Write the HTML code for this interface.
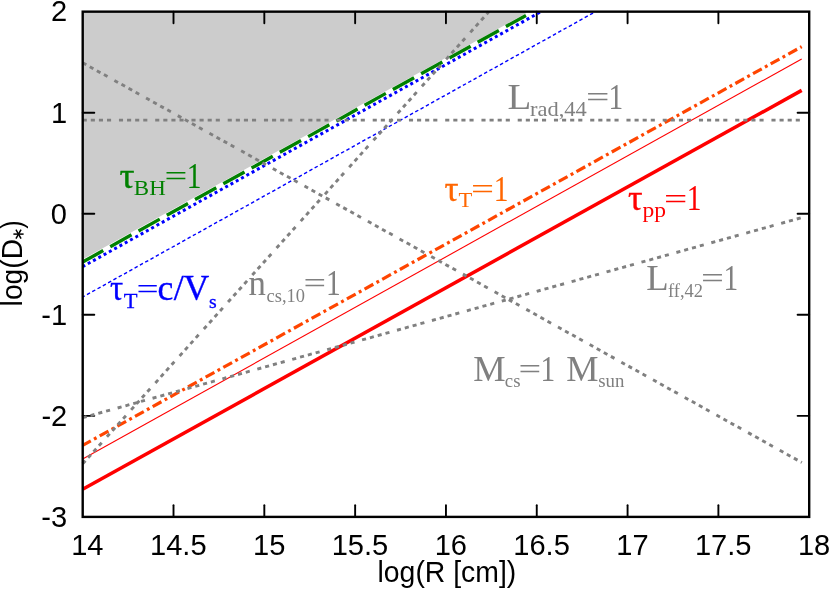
<!DOCTYPE html>
<html><head><meta charset="utf-8"><title>plot</title>
<style>html,body{margin:0;padding:0;background:#fff;}svg{display:block;will-change:transform;}</style>
</head><body>
<svg width="830" height="593" viewBox="0 0 830 593">
<rect width="830" height="593" fill="#ffffff"/>
<polygon points="82.7,11.65 82.7,259.3 526.0,13.3 526.0,11.65" fill="#cccccc"/>
<line x1="173.51" y1="516.90" x2="173.51" y2="505.30" stroke="#000" stroke-width="1.9" stroke-linecap="round"/>
<line x1="173.51" y1="11.65" x2="173.51" y2="23.25" stroke="#000" stroke-width="1.9" stroke-linecap="round"/>
<line x1="264.32" y1="516.90" x2="264.32" y2="505.30" stroke="#000" stroke-width="1.9" stroke-linecap="round"/>
<line x1="264.32" y1="11.65" x2="264.32" y2="23.25" stroke="#000" stroke-width="1.9" stroke-linecap="round"/>
<line x1="355.14" y1="516.90" x2="355.14" y2="505.30" stroke="#000" stroke-width="1.9" stroke-linecap="round"/>
<line x1="355.14" y1="11.65" x2="355.14" y2="23.25" stroke="#000" stroke-width="1.9" stroke-linecap="round"/>
<line x1="445.95" y1="516.90" x2="445.95" y2="505.30" stroke="#000" stroke-width="1.9" stroke-linecap="round"/>
<line x1="445.95" y1="11.65" x2="445.95" y2="23.25" stroke="#000" stroke-width="1.9" stroke-linecap="round"/>
<line x1="536.76" y1="516.90" x2="536.76" y2="505.30" stroke="#000" stroke-width="1.9" stroke-linecap="round"/>
<line x1="536.76" y1="11.65" x2="536.76" y2="23.25" stroke="#000" stroke-width="1.9" stroke-linecap="round"/>
<line x1="627.58" y1="516.90" x2="627.58" y2="505.30" stroke="#000" stroke-width="1.9" stroke-linecap="round"/>
<line x1="627.58" y1="11.65" x2="627.58" y2="23.25" stroke="#000" stroke-width="1.9" stroke-linecap="round"/>
<line x1="718.39" y1="516.90" x2="718.39" y2="505.30" stroke="#000" stroke-width="1.9" stroke-linecap="round"/>
<line x1="718.39" y1="11.65" x2="718.39" y2="23.25" stroke="#000" stroke-width="1.9" stroke-linecap="round"/>
<line x1="82.70" y1="415.85" x2="94.30" y2="415.85" stroke="#000" stroke-width="1.9" stroke-linecap="round"/>
<line x1="809.20" y1="415.85" x2="797.60" y2="415.85" stroke="#000" stroke-width="1.9" stroke-linecap="round"/>
<line x1="82.70" y1="314.80" x2="94.30" y2="314.80" stroke="#000" stroke-width="1.9" stroke-linecap="round"/>
<line x1="809.20" y1="314.80" x2="797.60" y2="314.80" stroke="#000" stroke-width="1.9" stroke-linecap="round"/>
<line x1="82.70" y1="213.75" x2="94.30" y2="213.75" stroke="#000" stroke-width="1.9" stroke-linecap="round"/>
<line x1="809.20" y1="213.75" x2="797.60" y2="213.75" stroke="#000" stroke-width="1.9" stroke-linecap="round"/>
<line x1="82.70" y1="112.70" x2="94.30" y2="112.70" stroke="#000" stroke-width="1.9" stroke-linecap="round"/>
<line x1="809.20" y1="112.70" x2="797.60" y2="112.70" stroke="#000" stroke-width="1.9" stroke-linecap="round"/>
<line x1="82.70" y1="262.00" x2="526.00" y2="15.40" stroke="#008000" stroke-width="3.4" stroke-linecap="butt" stroke-dasharray="24.3 8.04" stroke-dashoffset="0.8"/>
<line x1="82.70" y1="266.60" x2="541.00" y2="11.65" stroke="#0000ff" stroke-width="3.0" stroke-linecap="butt" stroke-dasharray="3 3.05" stroke-dashoffset="0.2"/>
<line x1="82.70" y1="297.00" x2="593.30" y2="12.90" stroke="#0000ff" stroke-width="1.4" stroke-linecap="butt" stroke-dasharray="3.5 2.56" stroke-dashoffset="1.21"/>
<line x1="82.70" y1="489.30" x2="801.70" y2="90.40" stroke="#ff0000" stroke-width="3.5" stroke-linecap="butt"/>
<line x1="82.70" y1="458.90" x2="801.70" y2="59.00" stroke="#ff0000" stroke-width="1.1" stroke-linecap="butt"/>
<line x1="82.70" y1="445.40" x2="801.70" y2="46.70" stroke="#ff4500" stroke-width="3.2" stroke-linecap="butt" stroke-dasharray="10 3.65 2.9 3.64" stroke-dashoffset="0.74"/>
<line x1="82.70" y1="120.10" x2="801.70" y2="120.10" stroke="#808080" stroke-width="2.9" stroke-linecap="butt" stroke-dasharray="4.1 4.0 4.1 4.0 4.1 4.0 4.1 7.85" stroke-dashoffset="0"/>
<line x1="82.70" y1="62.80" x2="801.80" y2="462.50" stroke="#808080" stroke-width="2.9" stroke-linecap="butt" stroke-dasharray="4.1 4.0 4.1 4.0 4.1 4.0 4.1 7.85" stroke-dashoffset="0"/>
<line x1="82.70" y1="463.80" x2="489.00" y2="11.65" stroke="#808080" stroke-width="2.9" stroke-linecap="butt" stroke-dasharray="4.1 4.0 4.1 4.0 4.1 4.0 4.1 7.85" stroke-dashoffset="0"/>
<line x1="82.70" y1="417.70" x2="801.40" y2="217.70" stroke="#808080" stroke-width="2.9" stroke-linecap="butt" stroke-dasharray="4.1 4.0 4.1 4.0 4.1 4.0 4.1 7.85" stroke-dashoffset="0"/>
<rect x="82.7" y="11.65" width="726.50" height="505.25" fill="none" stroke="#000" stroke-width="2.4"/>
<text transform="translate(71.17,554.80) scale(0.9686,1)" font-family="'Liberation Sans', sans-serif" font-size="30" fill="#000">14</text>
<text transform="translate(150.06,554.80) scale(0.9686,1)" font-family="'Liberation Sans', sans-serif" font-size="30" fill="#000">14.5</text>
<text transform="translate(252.98,554.80) scale(0.9686,1)" font-family="'Liberation Sans', sans-serif" font-size="30" fill="#000">15</text>
<text transform="translate(331.68,554.80) scale(0.9686,1)" font-family="'Liberation Sans', sans-serif" font-size="30" fill="#000">15.5</text>
<text transform="translate(434.63,554.80) scale(0.9686,1)" font-family="'Liberation Sans', sans-serif" font-size="30" fill="#000">16</text>
<text transform="translate(513.31,554.80) scale(0.9686,1)" font-family="'Liberation Sans', sans-serif" font-size="30" fill="#000">16.5</text>
<text transform="translate(616.35,554.80) scale(0.9686,1)" font-family="'Liberation Sans', sans-serif" font-size="30" fill="#000">17</text>
<text transform="translate(694.93,554.80) scale(0.9686,1)" font-family="'Liberation Sans', sans-serif" font-size="30" fill="#000">17.5</text>
<text transform="translate(797.88,554.80) scale(0.9686,1)" font-family="'Liberation Sans', sans-serif" font-size="30" fill="#000">18</text>
<text transform="translate(41.22,526.70) scale(0.9686,1)" font-family="'Liberation Sans', sans-serif" font-size="30" fill="#000">-3</text>
<text transform="translate(41.40,425.65) scale(0.9686,1)" font-family="'Liberation Sans', sans-serif" font-size="30" fill="#000">-2</text>
<text transform="translate(41.34,324.60) scale(0.9686,1)" font-family="'Liberation Sans', sans-serif" font-size="30" fill="#000">-1</text>
<text transform="translate(50.79,223.55) scale(0.9686,1)" font-family="'Liberation Sans', sans-serif" font-size="30" fill="#000">0</text>
<text transform="translate(51.03,122.50) scale(0.9686,1)" font-family="'Liberation Sans', sans-serif" font-size="30" fill="#000">1</text>
<text transform="translate(51.09,21.45) scale(0.9686,1)" font-family="'Liberation Sans', sans-serif" font-size="30" fill="#000">2</text>
<text transform="translate(377.50,582.40) scale(0.9793,1)" font-family="'Liberation Sans', sans-serif" font-size="29" fill="#000">log(R [cm])</text>
<g transform="translate(21.6,304.5) rotate(-90)">
<text transform="translate(-1.88,0) scale(0.9727,1)" font-family="'Liberation Sans', sans-serif" font-size="29" fill="#000">log(D</text>
<line x1="70.40" y1="-8.20" x2="70.40" y2="2.00" stroke="#000" stroke-width="1.5"/>
<line x1="65.98" y1="-5.65" x2="74.82" y2="-0.55" stroke="#000" stroke-width="1.5"/>
<line x1="74.82" y1="-5.65" x2="65.98" y2="-0.55" stroke="#000" stroke-width="1.5"/>
<text transform="translate(75.64,0) scale(0.8585,1)" font-family="'Liberation Sans', sans-serif" font-size="29" fill="#000">)</text>
</g>
<text transform="translate(119.40,187.50) scale(1.0667,1)" font-family="'Liberation Serif', serif" font-size="35" fill="#008000" stroke="#008000" stroke-width="0.35">τ</text>
<text transform="translate(133.85,194.50) scale(1.0439,1)" font-family="'Liberation Serif', serif" font-size="22" fill="#008000">BH</text>
<text transform="translate(164.48,185.70) scale(1.3489,1)" font-family="'Liberation Serif', serif" font-size="30" fill="#008000">=</text>
<text transform="translate(186.66,187.50) scale(0.8400,1)" font-family="'Liberation Serif', serif" font-size="35" fill="#008000">1</text>
<text transform="translate(110.10,300.30) scale(0.9393,1)" font-family="'Liberation Serif', serif" font-size="35" fill="#0000ff" stroke="#0000ff" stroke-width="0.3">τ</text>
<text transform="translate(123.72,307.50) scale(1.0246,1)" font-family="'Liberation Serif', serif" font-size="22" fill="#0000ff" stroke="#0000ff" stroke-width="0.3">T</text>
<text transform="translate(136.53,298.50) scale(1.3130,1)" font-family="'Liberation Serif', serif" font-size="30" fill="#0000ff">=</text>
<text transform="translate(157.46,300.30) scale(1.0210,1)" font-family="'Liberation Serif', serif" font-size="35" fill="#0000ff" stroke="#0000ff" stroke-width="0.3">c</text>
<text transform="translate(173.70,300.30) scale(1.0359,1)" font-family="'Liberation Serif', serif" font-size="35" fill="#0000ff" stroke="#0000ff" stroke-width="0.3">/</text>
<text transform="translate(183.42,300.30) scale(1.0204,1)" font-family="'Liberation Serif', serif" font-size="35" fill="#0000ff" stroke="#0000ff" stroke-width="0.3">V</text>
<text transform="translate(209.00,307.50) scale(1.0667,1)" font-family="'Liberation Serif', serif" font-size="18.5" fill="#0000ff" stroke="#0000ff" stroke-width="0.3">s</text>
<text transform="translate(248.49,295.00) scale(0.9946,1)" font-family="'Liberation Serif', serif" font-size="35" fill="#808080">n</text>
<text transform="translate(266.51,301.70) scale(0.9976,1)" font-family="'Liberation Serif', serif" font-size="18.5" fill="#808080">cs,10</text>
<text transform="translate(303.60,293.20) scale(1.3345,1)" font-family="'Liberation Serif', serif" font-size="30" fill="#808080">=</text>
<text transform="translate(326.06,295.00) scale(0.8400,1)" font-family="'Liberation Serif', serif" font-size="35" fill="#808080">1</text>
<text transform="translate(507.49,108.60) scale(1.1140,1)" font-family="'Liberation Serif', serif" font-size="35" fill="#808080">L</text>
<text transform="translate(530.05,115.60) scale(1.0217,1)" font-family="'Liberation Serif', serif" font-size="22" fill="#808080">rad,44</text>
<text transform="translate(585.92,106.80) scale(1.3848,1)" font-family="'Liberation Serif', serif" font-size="30" fill="#808080">=</text>
<text transform="translate(608.56,108.60) scale(0.8400,1)" font-family="'Liberation Serif', serif" font-size="35" fill="#808080">1</text>
<text transform="translate(444.55,200.50) scale(0.9950,1)" font-family="'Liberation Serif', serif" font-size="35" fill="#ff6600" stroke="#ff6600" stroke-width="0.35">τ</text>
<text transform="translate(458.62,207.40) scale(1.0246,1)" font-family="'Liberation Serif', serif" font-size="22" fill="#ff6600">T</text>
<text transform="translate(470.96,198.70) scale(1.3632,1)" font-family="'Liberation Serif', serif" font-size="30" fill="#ff6600">=</text>
<text transform="translate(493.71,200.50) scale(0.8400,1)" font-family="'Liberation Serif', serif" font-size="35" fill="#ff6600">1</text>
<text transform="translate(628.12,210.30) scale(1.0348,1)" font-family="'Liberation Serif', serif" font-size="35" fill="#ff0000" stroke="#ff0000" stroke-width="0.35">τ</text>
<text transform="translate(642.40,216.60) scale(1.0699,1)" font-family="'Liberation Serif', serif" font-size="22" fill="#ff0000">pp</text>
<text transform="translate(663.93,208.50) scale(1.3776,1)" font-family="'Liberation Serif', serif" font-size="30" fill="#ff0000">=</text>
<text transform="translate(686.66,210.30) scale(0.8400,1)" font-family="'Liberation Serif', serif" font-size="35" fill="#ff0000">1</text>
<text transform="translate(646.25,290.10) scale(1.0485,1)" font-family="'Liberation Serif', serif" font-size="35" fill="#808080">L</text>
<text transform="translate(667.94,297.00) scale(0.9981,1)" font-family="'Liberation Serif', serif" font-size="18.5" fill="#808080">ff,42</text>
<text transform="translate(700.97,288.30) scale(1.3561,1)" font-family="'Liberation Serif', serif" font-size="30" fill="#808080">=</text>
<text transform="translate(723.51,290.10) scale(0.8400,1)" font-family="'Liberation Serif', serif" font-size="35" fill="#808080">1</text>
<text transform="translate(473.26,380.50) scale(1.0403,1)" font-family="'Liberation Serif', serif" font-size="35" fill="#808080">M</text>
<text transform="translate(504.80,387.40) scale(1.0169,1)" font-family="'Liberation Serif', serif" font-size="18.5" fill="#808080">cs</text>
<text transform="translate(518.39,378.70) scale(1.3417,1)" font-family="'Liberation Serif', serif" font-size="30" fill="#808080">=</text>
<text transform="translate(540.61,380.50) scale(0.8400,1)" font-family="'Liberation Serif', serif" font-size="35" fill="#808080">1</text>
<text transform="translate(566.16,380.50) scale(1.0369,1)" font-family="'Liberation Serif', serif" font-size="35" fill="#808080">M</text>
<text transform="translate(598.24,387.40) scale(1.0167,1)" font-family="'Liberation Serif', serif" font-size="18.5" fill="#808080">sun</text>
</svg>
</body></html>
